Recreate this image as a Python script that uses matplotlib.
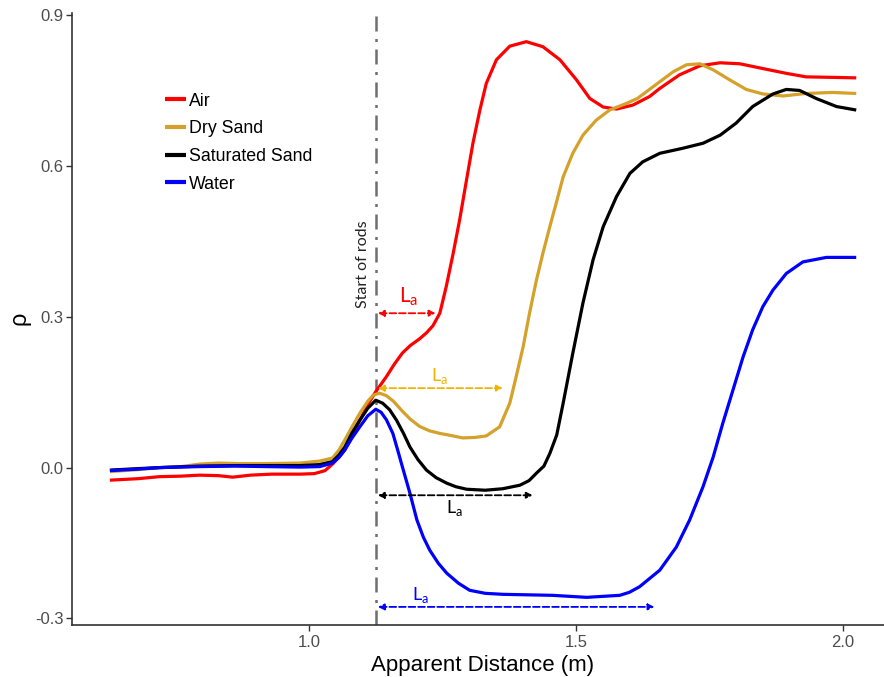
import matplotlib
matplotlib.use("Agg")
import matplotlib.pyplot as plt

# ---------------- data ----------------
air_x = [0.627, 0.68, 0.72, 0.76, 0.795, 0.83, 0.857, 0.89, 0.93, 0.983, 1.01, 1.03,
         1.045, 1.056, 1.067, 1.08, 1.095, 1.11, 1.125, 1.145, 1.16, 1.175, 1.19, 1.207,
         1.22, 1.232, 1.245, 1.257, 1.270, 1.282, 1.295, 1.307, 1.320, 1.332, 1.351,
         1.376, 1.407, 1.438, 1.470, 1.501, 1.526, 1.551, 1.576, 1.607, 1.638, 1.657,
         1.694, 1.732, 1.770, 1.807, 1.857, 1.894, 1.931, 1.981, 2.025]
air_y = [-0.025, -0.022, -0.018, -0.017, -0.015, -0.016, -0.019, -0.015, -0.013, -0.013,
         -0.012, -0.006, 0.008, 0.021, 0.035, 0.062, 0.094, 0.125, 0.151, 0.181, 0.206,
         0.228, 0.243, 0.256, 0.268, 0.282, 0.307, 0.36, 0.426, 0.492, 0.572, 0.645,
         0.711, 0.764, 0.811, 0.838, 0.847, 0.837, 0.811, 0.771, 0.734, 0.717, 0.713,
         0.721, 0.738, 0.754, 0.781, 0.799, 0.805, 0.803, 0.792, 0.784, 0.777, 0.776,
         0.775]

dry_x = [0.627, 0.68, 0.72, 0.76, 0.795, 0.83, 0.87, 0.92, 0.983, 1.02, 1.044, 1.056,
         1.067, 1.08, 1.095, 1.11, 1.12, 1.132, 1.145, 1.158, 1.175, 1.19, 1.207, 1.226,
         1.245, 1.265, 1.288, 1.311, 1.332, 1.357, 1.376, 1.388, 1.401, 1.413, 1.426,
         1.438, 1.451, 1.463, 1.476, 1.494, 1.513, 1.538, 1.563, 1.594, 1.615, 1.644,
         1.682, 1.707, 1.732, 1.757, 1.788, 1.819, 1.850, 1.888, 1.931, 1.981, 2.025]
dry_y = [-0.008, -0.004, 0.0, 0.002, 0.007, 0.009, 0.008, 0.008, 0.009, 0.013, 0.019,
         0.035, 0.055, 0.08, 0.108, 0.132, 0.144, 0.148, 0.143, 0.132, 0.112, 0.096,
         0.082, 0.073, 0.068, 0.064, 0.059, 0.06, 0.063, 0.081, 0.128, 0.181, 0.240,
         0.307, 0.373, 0.426, 0.479, 0.526, 0.578, 0.625, 0.661, 0.691, 0.711, 0.724,
         0.734, 0.757, 0.787, 0.801, 0.803, 0.791, 0.771, 0.752, 0.743, 0.739, 0.744,
         0.746, 0.744]

sat_x = [0.627, 0.68, 0.72, 0.795, 0.86, 0.92, 0.983, 1.02, 1.044, 1.056, 1.067, 1.08,
         1.095, 1.11, 1.125, 1.138, 1.151, 1.164, 1.177, 1.189, 1.204, 1.220, 1.238,
         1.258, 1.275, 1.295, 1.33, 1.363, 1.395, 1.412, 1.426, 1.44, 1.451, 1.464,
         1.476, 1.494, 1.513, 1.532, 1.551, 1.576, 1.601, 1.625, 1.657, 1.700, 1.738,
         1.770, 1.800, 1.831, 1.869, 1.894, 1.919, 1.950, 1.988, 2.025]
sat_y = [-0.005, -0.002, 0.0, 0.003, 0.004, 0.004, 0.004, 0.006, 0.012, 0.025, 0.041,
         0.068, 0.094, 0.118, 0.134, 0.128, 0.115, 0.094, 0.068, 0.041, 0.016, -0.005,
         -0.020, -0.031, -0.038, -0.043, -0.045, -0.042, -0.035, -0.026, -0.011, 0.003,
         0.028, 0.065, 0.128, 0.227, 0.327, 0.413, 0.479, 0.539, 0.585, 0.608, 0.625,
         0.635, 0.645, 0.661, 0.685, 0.718, 0.743, 0.752, 0.750, 0.734, 0.718, 0.711]

wat_x = [0.627, 0.68, 0.72, 0.795, 0.86, 0.92, 0.983, 1.02, 1.044, 1.056, 1.067, 1.08,
         1.095, 1.11, 1.125, 1.135, 1.145, 1.157, 1.166, 1.175, 1.189, 1.202, 1.214,
         1.226, 1.242, 1.258, 1.28, 1.301, 1.33, 1.363, 1.41, 1.456, 1.520, 1.582, 1.60,
         1.619, 1.657, 1.688, 1.713, 1.738, 1.757, 1.775, 1.794, 1.813, 1.831, 1.850,
         1.869, 1.894, 1.925, 1.969, 2.025]
wat_y = [-0.006, -0.003, 0.0, 0.002, 0.003, 0.002, 0.001, 0.002, 0.009, 0.02, 0.035,
         0.058, 0.081, 0.103, 0.116, 0.110, 0.095, 0.068, 0.035, 0.001, -0.051, -0.104,
         -0.138, -0.164, -0.19, -0.21, -0.23, -0.244, -0.250, -0.252, -0.253, -0.254,
         -0.258, -0.254, -0.248, -0.237, -0.204, -0.158, -0.104, -0.038, 0.021, 0.088,
         0.154, 0.220, 0.274, 0.320, 0.353, 0.386, 0.409, 0.418, 0.418]

labels = ["Air", "Dry Sand", "Saturated Sand", "Water"]
colors = ["#FF0000", "#D4A12A", "#000000", "#0000FF"]

rod_start = 1.125
la_ends = [1.237, 1.363, 1.419, 1.647]
la_heights = [0.307, 0.158, -0.055, -0.277]
la_label_pos = [(1.187, 0.339), (1.245, 0.182), (1.273, -0.08), (1.209, -0.254)]
la_colors = ["#FF0000", "#F0B400", "#000000", "#0000FF"]
la_sizes = [15, 13, 13, 13]

xticks = [1.0, 1.5, 2.0]
yticks = [-0.3, 0.0, 0.3, 0.6, 0.9]

# ---------------- figure ----------------
fig = plt.figure(figsize=(8.84, 6.77), dpi=100)
ax = fig.add_axes([72 / 884, 1 - 625 / 677, 812 / 884, 612 / 677])

series = [(air_x, air_y), (dry_x, dry_y), (sat_x, sat_y), (wat_x, wat_y)]
for (xs, ys), lab, col in zip(series, labels, colors):
    ax.plot(xs, ys, color=col, lw=2.3, label=lab, solid_joinstyle="round",
            solid_capstyle="butt", zorder=3)

ax.axvline(rod_start, color="#6E6E6E", lw=1.8, ls=(0, (6, 3, 1.2, 3)), zorder=2)
ax.text(rod_start - 0.023, 0.318, "Start of rods", rotation=90, ha="center", va="bottom",
        fontsize=11.5, color="#222222", family="Lato")

for xe, yh, (lx, ly), c, fs in zip(la_ends, la_heights, la_label_pos, la_colors, la_sizes):
    ax.annotate("", xy=(xe, yh), xytext=(rod_start + 0.004, yh),
                arrowprops=dict(arrowstyle="<|-|>", color=c, lw=1.3, ls="--",
                                mutation_scale=9, shrinkA=0, shrinkB=0), zorder=4)
    ax.text(lx, ly, r"L$_{\mathregular{a}}$", color=c, fontsize=fs, ha="center",
            va="center", family="Lato")

ax.set_xlim(0.556, 2.077)
ax.set_ylim(-0.313, 0.904)
ax.set_xticks(xticks)
ax.set_xticklabels([f"{t:.1f}" for t in xticks])
ax.set_yticks(yticks)
ax.set_yticklabels([f"{t:.1f}" for t in yticks])
ax.tick_params(axis="both", colors="#333333", labelcolor="#4D4D4D", length=4, width=1,
               labelsize=12)
ax.tick_params(axis="y", pad=2)
for lab in ax.get_xticklabels() + ax.get_yticklabels():
    lab.set_family("Liberation Sans")
for s in ["top", "right"]:
    ax.spines[s].set_visible(False)
for s in ["left", "bottom"]:
    ax.spines[s].set_color("#333333")
    ax.spines[s].set_linewidth(1.2)

ax.set_xlabel("Apparent Distance (m)", fontsize=16, family="Liberation Sans")
ax.xaxis.set_label_coords((483 - 72) / 812, -(655 - 625) / 612)
ax.set_ylabel("ρ", fontsize=17, family="Liberation Sans")
ax.yaxis.set_label_coords((30 - 72) / 812, (625 - 318) / 612)

leg = ax.legend(loc="upper left", bbox_to_anchor=(0.114, 0.870), frameon=False,
                prop={"family": "Liberation Sans", "size": 12.8}, handlelength=1.18,
                handletextpad=0.2, labelspacing=0.6, borderpad=0, borderaxespad=0)
for h in leg.get_lines():
    h.set_linewidth(3)

fig.savefig("out.png", dpi=100)
